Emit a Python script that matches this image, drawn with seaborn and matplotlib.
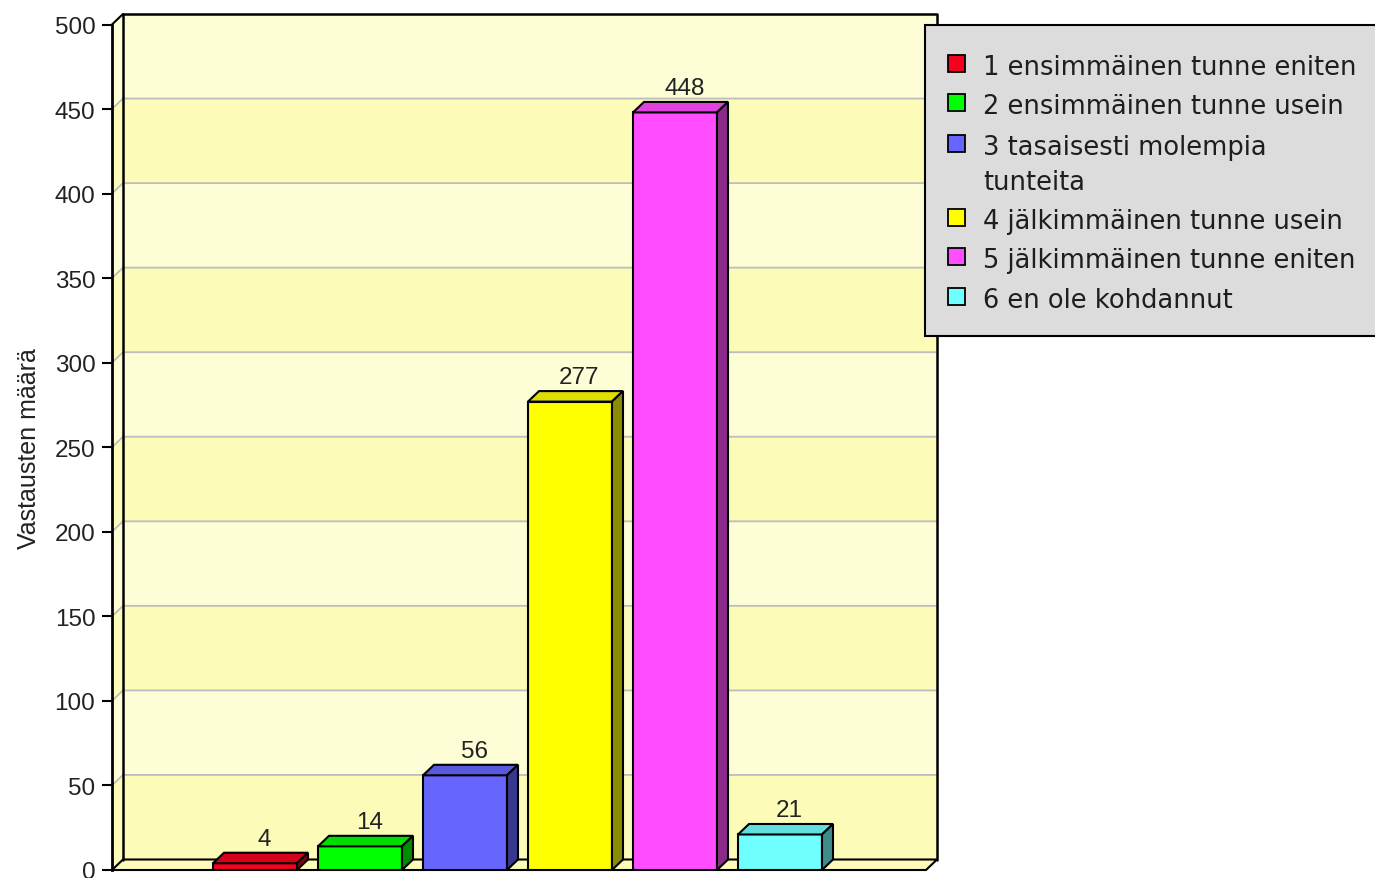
import matplotlib
matplotlib.use("Agg")
import matplotlib.pyplot as plt
from matplotlib.colors import to_rgb
from matplotlib.patches import Polygon, Rectangle
import pandas as pd
import seaborn as sns

answers = [
    "1 ensimmäinen tunne eniten",
    "2 ensimmäinen tunne usein",
    "3 tasaisesti molempia\ntunteita",
    "4 jälkimmäinen tunne usein",
    "5 jälkimmäinen tunne eniten",
    "6 en ole kohdannut",
]
counts = [4, 14, 56, 277, 448, 21]
bar_colors = ["#F5001E", "#00FF00", "#6666FF", "#FFFF00", "#FF4DFF", "#70FFFF"]
y_ticks = list(range(0, 501, 50))
y_label = "Vastausten määrä"

sns.set_style("ticks")
plt.rcParams["font.family"] = ["Liberation Sans", "DejaVu Sans"]

W, H = 1375, 879
fig = plt.figure(figsize=(W / 100, H / 100), dpi=100)
# front axis at x=112, back wall right edge at x=937, floor front at y=871, wall top at y=15
ax = fig.add_axes([112 / W, (H - 871) / H, (937 - 112) / W, (871 - 15) / H])

# fake 3d depth, JFreeChart style
SLOT = 105.0                      # pixels per category
PX_PER_UNIT = (871 - 15 - 10.5) / 500
DX = 11 / SLOT
DY = 10.5 / PX_PER_UNIT
X0 = -(255 - 112) / SLOT
X1 = X0 + (937 - 112) / SLOT
Y1 = 500 + DY

LIGHT = "#FDFDD6"
DARK = "#FCFCB8"

df = pd.DataFrame({"answer": answers, "count": counts})
sns.barplot(data=df, x="answer", y="count", hue="answer", palette=bar_colors,
            saturation=1, width=0.8, edgecolor="black", linewidth=1.5,
            legend=False, ax=ax, zorder=3)

# walls: left strip + back wall with alternating bands
for v in range(0, 500, 50):
    col = DARK if (v // 50) % 2 == 0 else LIGHT
    ax.add_patch(Rectangle((X0 + DX, v + DY), X1 - X0 - DX, 50,
                           facecolor=col, edgecolor="none", zorder=0.5))
    ax.add_patch(Polygon([(X0, v), (X0 + DX, v + DY), (X0 + DX, v + 50 + DY), (X0, v + 50)],
                         facecolor=col, edgecolor="none", zorder=0.5))
for v in y_ticks[1:-1]:
    ax.plot([X0, X0 + DX, X1], [v, v + DY, v + DY], color="#BDBDBD", lw=1.3, zorder=0.8)

# floor
ax.add_patch(Polygon([(X0, 0), (X0 + DX, DY), (X1, DY), (X1 - DX, 0)],
                     facecolor=DARK, edgecolor="black", lw=1.5, zorder=1,
                     clip_on=False))
# back wall outline and front axis top
ax.plot([X0 + DX, X0 + DX, X1, X1], [DY, Y1, Y1, DY], color="black", lw=1.8,
        zorder=1.2, clip_on=False)
ax.plot([X0, X0 + DX], [500, Y1], color="black", lw=1.5, zorder=1.2, clip_on=False)

# 3d tops and sides of the bars
bars = [b for c in ax.containers for b in c]
for bar in bars:
    x, w, h = bar.get_x(), bar.get_width(), bar.get_height()
    rgb = to_rgb(bar.get_facecolor())
    top = tuple(c * 0.87 for c in rgb)
    side = tuple(c * 0.55 for c in rgb)
    ax.add_patch(Polygon([(x, h), (x + DX, h + DY), (x + w + DX, h + DY), (x + w, h)],
                         facecolor=top, edgecolor="black", lw=1.5, zorder=3))
    ax.add_patch(Polygon([(x + w, 0), (x + w + DX, DY), (x + w + DX, h + DY), (x + w, h)],
                         facecolor=side, edgecolor="black", lw=1.5, zorder=3))
    ax.annotate(f"{int(h)}", (x + w / 2 + 0.85 * DX, h + DY), xytext=(0, 2),
                textcoords="offset points", ha="center", va="bottom",
                fontsize=17.5, color="#222222", zorder=4)

ax.set_xlim(X0, X1)
ax.set_ylim(0, Y1)
ax.set_xticks([])
ax.set_xlabel("")
ax.set_yticks(y_ticks)
ax.tick_params(axis="y", direction="out", length=7, width=1.5, pad=5,
               labelsize=17.5, labelcolor="#222222", color="black")
for s in ["top", "right", "bottom"]:
    ax.spines[s].set_visible(False)
ax.spines["left"].set_bounds(0, 500)
ax.spines["left"].set_color("black")
ax.spines["left"].set_linewidth(2)

ax.set_ylabel(y_label, fontsize=18, color="#222222")
ax.yaxis.set_label_coords(-0.1012, 0.4936)
ax.yaxis.label.set_va("center")

# legend box drawn in pixel coords
lax = fig.add_axes([0, 0, 1, 1], zorder=5)
lax.set_xlim(0, W)
lax.set_ylim(H, 0)
lax.axis("off")
lax.add_patch(Rectangle((925, 26), 480, 311, facecolor="#DCDCDC",
                        edgecolor="black", lw=1.5))
row_y = [64, 103.5, 144, 218, 257.5, 297]
for y, label, col in zip(row_y, answers, bar_colors):
    lax.add_patch(Rectangle((948, y - 8.5), 17, 17, facecolor=col,
                            edgecolor="black", lw=1.3))
    for i, line in enumerate(label.split("\n")):
        lax.text(983, y + 1 + i * 35, line, family="DejaVu Sans", fontsize=18.5,
                 color="#1E1E1E", va="center_baseline", ha="left")

fig.savefig("out.png", dpi=100)
